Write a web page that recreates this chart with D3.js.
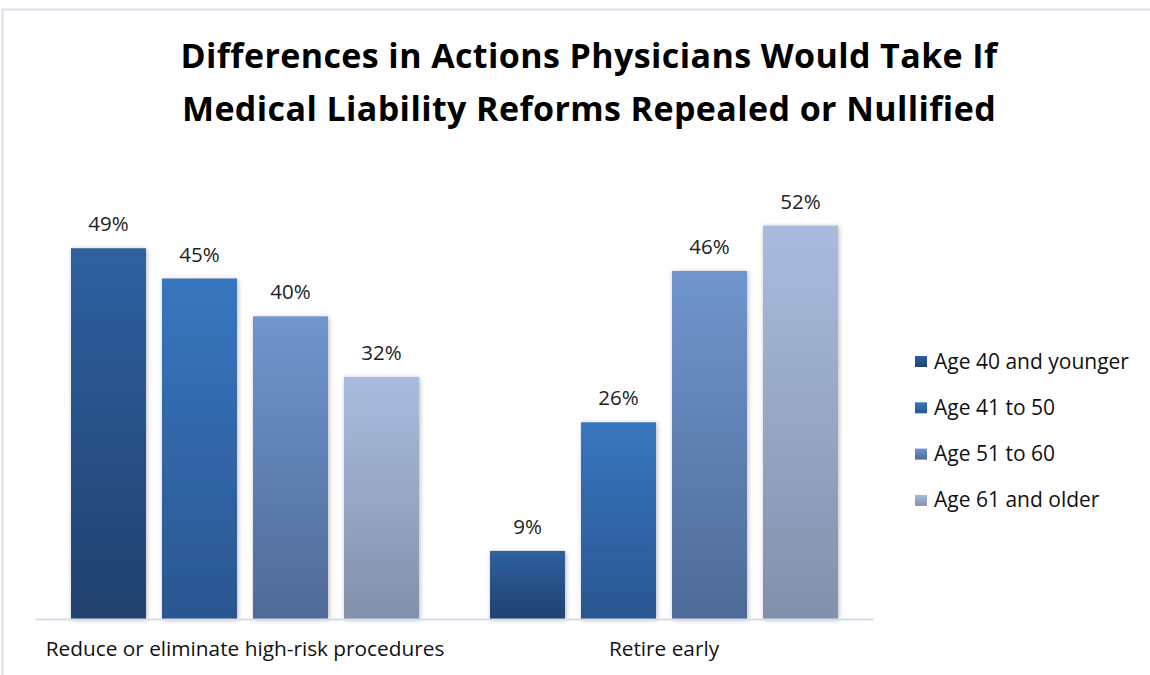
<!DOCTYPE html>
<html>
<head>
<meta charset="utf-8">
<script src="https://cdn.jsdelivr.net/npm/d3@7"></script>
<style>
  html, body { margin: 0; padding: 0; background: #fff; }
  svg { display: block; }
</style>
</head>
<body>
<svg id="chart" width="1150" height="675"></svg>
<script>
// Survey results: share of physicians by age group
const categories = ["Reduce or eliminate high-risk procedures", "Retire early"];
const seriesNames = ["Age 40 and younger", "Age 41 to 50", "Age 51 to 60", "Age 61 and older"];
const age40Under = [49, 9];
const age41to50 = [45, 26];
const age51to60 = [40, 46];
const age61Over = [32, 52];
const seriesValues = [age40Under, age41to50, age51to60, age61Over];
const titleLines = ["Differences in Actions Physicians Would Take If",
                    "Medical Liability Reforms Repealed or Nullified"];
// top / bottom gradient stops per series
const gradTop = ["#2e60a0", "#3876c0", "#7096cd", "#aabcdd"];
const gradBottom = ["#21426f", "#2a5690", "#4f6a97", "#8290ab"];

const svg = d3.select("#chart");
const font = "'Open Sans', sans-serif";

// chart frame
svg.append("path")
  .attr("d", "M2.5,675 V9.5 H1150")
  .attr("fill", "none")
  .attr("stroke", "#d6e0eb")
  .attr("stroke-width", 2);

const defs = svg.append("defs");
seriesNames.forEach((s, i) => {
  const g = defs.append("linearGradient")
    .attr("id", "grad" + i)
    .attr("x1", 0).attr("y1", 0).attr("x2", 0).attr("y2", 1);
  g.append("stop").attr("offset", "0%").attr("stop-color", gradTop[i]);
  g.append("stop").attr("offset", "100%").attr("stop-color", gradBottom[i]);
});
const f = defs.append("filter").attr("id", "shadow")
  .attr("x", "-20%").attr("y", "-20%").attr("width", "140%").attr("height", "140%");
f.append("feDropShadow")
  .attr("dx", 1).attr("dy", 1).attr("stdDeviation", 2.5)
  .attr("flood-color", "#000").attr("flood-opacity", 0.28);

// title
svg.append("text")
  .attr("text-anchor", "middle")
  .attr("font-family", font).attr("font-weight", "bold")
  .attr("font-size", 34).attr("letter-spacing", 0.4).attr("fill", "#000")
  .selectAll("tspan")
  .data(titleLines)
  .join("tspan")
  .attr("x", 589)
  .attr("y", (d, i) => 68 + i * 53)
  .text(d => d);

// scales
const x0 = d3.scaleBand().domain(categories).range([35, 873]).padding(0);
const x1 = d3.scaleBand().domain(seriesNames).range([36, 384]).paddingInner(0.176).paddingOuter(0);
const y = d3.scaleLinear().domain([0, 60]).range([619, 165]);

// bars
const groups = svg.append("g").selectAll("g")
  .data(categories)
  .join("g")
  .attr("transform", d => `translate(${x0(d)},0)`);

groups.selectAll("rect")
  .data((c, ci) => seriesNames.map((s, si) => ({ s, si, v: seriesValues[si][ci] })))
  .join("rect")
  .attr("x", d => x1(d.s))
  .attr("y", d => y(d.v))
  .attr("width", x1.bandwidth())
  .attr("height", d => y(0) - y(d.v))
  .attr("fill", d => `url(#grad${d.si})`)
  .attr("filter", "url(#shadow)");

groups.selectAll("text.val")
  .data((c, ci) => seriesNames.map((s, si) => ({ s, si, v: seriesValues[si][ci] })))
  .join("text")
  .attr("class", "val")
  .attr("x", d => x1(d.s) + x1.bandwidth() / 2)
  .attr("y", d => y(d.v) - 17)
  .attr("text-anchor", "middle")
  .attr("font-family", font).attr("font-size", 20.5).attr("fill", "#222")
  .text(d => d.v + "%");

// category axis
const xAxis = svg.append("g")
  .attr("transform", `translate(0,${y(0)})`)
  .call(d3.axisBottom(x0).tickSize(0).tickPadding(0));
xAxis.select(".domain").attr("stroke", "#d3deec").attr("stroke-width", 2);
xAxis.selectAll(".tick text")
  .attr("x", -x0.bandwidth() / 2 + 36 + 348 / 2)
  .attr("dy", 0).attr("y", 37)
  .attr("font-family", font).attr("font-size", 20.8).attr("fill", "#111");

// legend
const legend = svg.append("g").attr("transform", "translate(915,362)");
const items = legend.selectAll("g")
  .data(seriesNames)
  .join("g")
  .attr("transform", (d, i) => `translate(0,${i * 46.3})`);
items.append("rect")
  .attr("x", 0).attr("y", -6).attr("width", 12).attr("height", 11)
  .attr("fill", (d, i) => `url(#grad${i})`);
items.append("text")
  .attr("x", 19).attr("y", 6.5)
  .attr("font-family", font).attr("font-size", 21).attr("fill", "#111")
  .text(d => d);
</script>
</body>
</html>
